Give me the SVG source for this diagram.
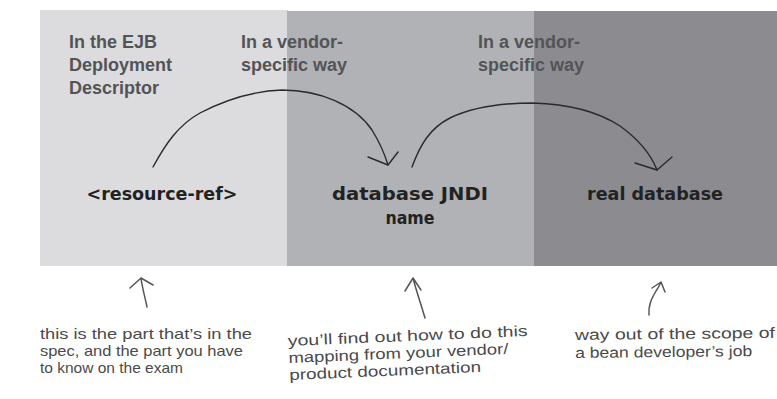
<svg xmlns="http://www.w3.org/2000/svg" width="777" height="399" viewBox="0 0 777 399">
<style>
.hdr{font-family:"Liberation Sans",Arial,sans-serif;font-weight:bold;font-size:18px;fill:#535457}
.lbl{font-family:"DejaVu Sans","Liberation Sans",sans-serif;font-weight:bold;font-size:17px;fill:#222;text-anchor:middle}
.note{font-family:"Liberation Sans",Arial,sans-serif;font-size:15px;fill:#4a4a4a}
.ln{fill:none;stroke:#2a2a2a;stroke-width:1.4;stroke-linecap:round;stroke-linejoin:round}
.nl{fill:none;stroke:#555;stroke-width:1.5;stroke-linecap:round;stroke-linejoin:round}
</style>
<rect width="777" height="399" fill="#fff"/>
<g id="panel-dd">
<rect x="40" y="10" width="248" height="256" fill="#dcdcde"/>
<text class="hdr" x="69" y="48">In the EJB</text>
<text class="hdr" x="69" y="71">Deployment</text>
<text class="hdr" x="69" y="94">Descriptor</text>
<text class="lbl" x="162" y="200" textLength="151" lengthAdjust="spacingAndGlyphs">&lt;resource-ref&gt;</text>
</g>
<g id="panel-jndi">
<rect x="287" y="11" width="247" height="255" fill="#b0b2b5"/>
<text class="lbl" x="410" y="200" textLength="156" lengthAdjust="spacingAndGlyphs">database JNDI</text>
<text class="lbl" x="410" y="224" textLength="49" lengthAdjust="spacingAndGlyphs">name</text>
</g>
<g id="panel-db">
<rect x="534" y="11" width="243" height="255" fill="#8c8c90"/>
<text class="lbl" x="655" y="200" textLength="136" lengthAdjust="spacingAndGlyphs">real database</text>
</g>
<g id="vendor-labels">
<text class="hdr" x="241" y="48">In a vendor-</text>
<text class="hdr" x="241" y="71">specific way</text>
<text class="hdr" x="478" y="48">In a vendor-</text>
<text class="hdr" x="478" y="71">specific way</text>
</g>
<g id="connectors">
<path class="ln" d="M153,167 C165,145 178,125 200,113 C225,100 255,91 282,90 C320,90 355,105 372,130 C380,143 385,155 388,165"/>
<path class="ln" d="M368,157 L388,165 L398,152"/>
<path class="ln" d="M412,167 C420,145 430,128 450,118 C475,106 505,103 533,103 C570,104 600,113 620,126 C638,139 650,152 657,170"/>
<path class="ln" d="M635,163 L657,170 L672,157"/>
<path class="nl" d="M147,307 C145,297 142,287 141,278 M130,288 L141,278 L153,285"/>
<path class="nl" d="M425,318 C421,304 416,290 413,278 M405,291 L413,278 L421,290"/>
<path class="nl" d="M649,315 C648,305 652,298 656,291 C659,287 660,284 661,282 M652,288 L661,282 L665,292"/>
</g>
<g id="notes">
<g>
<text class="note" x="40" y="339" textLength="212" lengthAdjust="spacingAndGlyphs">this is the part that’s in the</text>
<text class="note" x="40" y="356" textLength="203" lengthAdjust="spacingAndGlyphs">spec, and the part you have</text>
<text class="note" x="40" y="373" textLength="143" lengthAdjust="spacingAndGlyphs">to know on the exam</text>
</g>
<g transform="rotate(-2.4 288 346)">
<text class="note" x="288" y="346" textLength="240" lengthAdjust="spacingAndGlyphs">you’ll find out how to do this</text>
<text class="note" x="288" y="363" textLength="220" lengthAdjust="spacingAndGlyphs">mapping from your vendor/</text>
<text class="note" x="288" y="380" textLength="192" lengthAdjust="spacingAndGlyphs">product documentation</text>
</g>
<g transform="rotate(-0.6 575 340)">
<text class="note" x="575" y="340" textLength="200" lengthAdjust="spacingAndGlyphs">way out of the scope of</text>
<text class="note" x="575" y="358" textLength="177" lengthAdjust="spacingAndGlyphs">a bean developer’s job</text>
</g>
</g>
</svg>
